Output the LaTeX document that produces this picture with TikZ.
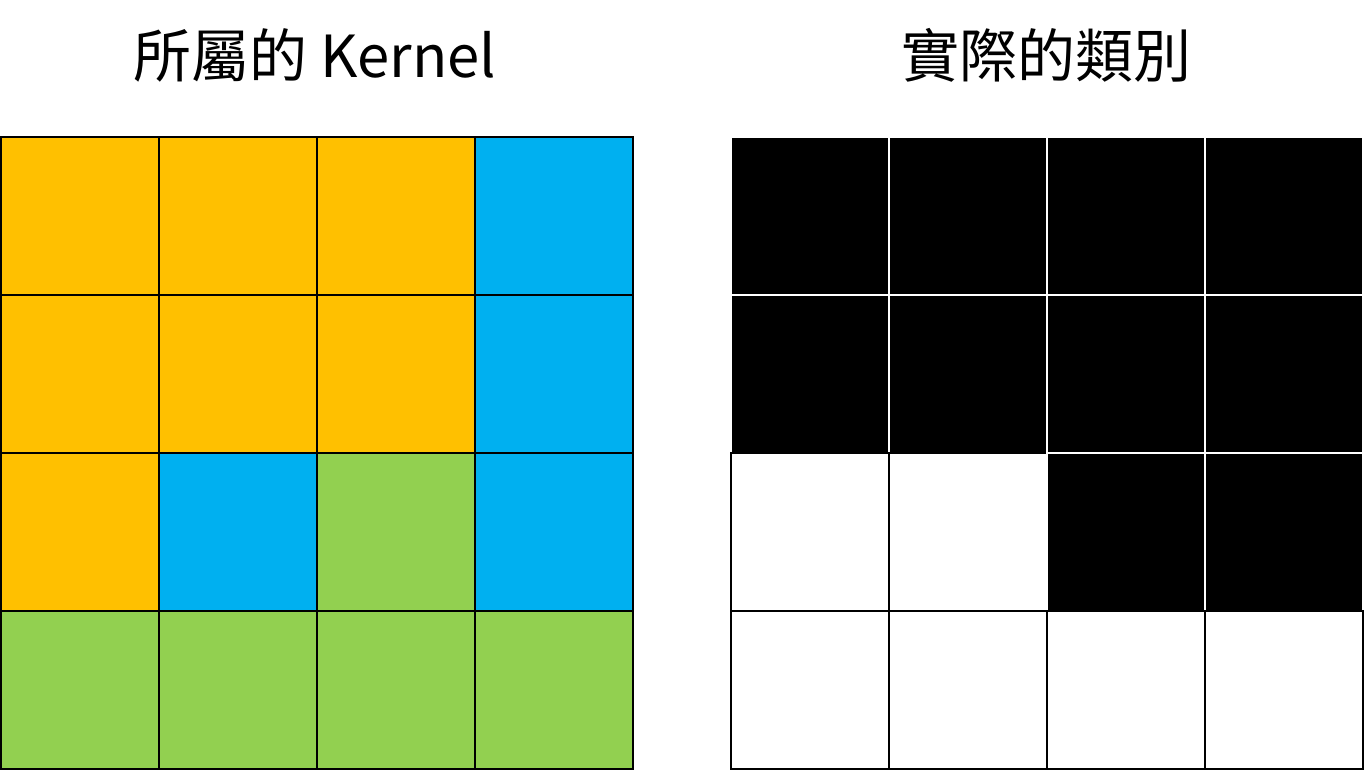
\documentclass[tikz,border=0pt]{standalone}
\usepackage{fontspec}
\usepackage{xcolor}
\usepackage{tikz}
\newfontfamily\cjk{Noto Sans CJK TC}
\definecolor{kernelorange}{RGB}{255, 192, 0}
\definecolor{kernelblue}{RGB}{0, 176, 240}
\definecolor{kernelgreen}{RGB}{146, 208, 80}
\tikzset{
    kcell/.style={draw=black,line width=2pt,minimum size=158pt,inner sep=0pt},
    blackcell/.style={fill=black,draw=white,line width=2pt,minimum size=158pt,inner sep=0pt},
    whitecell/.style={fill=white,draw=black,line width=2pt,minimum size=158pt,inner sep=0pt},
    gridtitle/.style={font=\cjk\fontsize{58}{64}\selectfont,inner sep=0pt}
}

\begin{document}
\begin{tikzpicture}[x=1pt,y=-1pt]
    \useasboundingbox (0,0) rectangle (1365,772);

    % Titles
    \node[gridtitle] (kerneltitle) at (315,55) {所屬的 Kernel};
    \node[gridtitle] (classtitle) at (1046,55) {實際的類別};

    % Kernel grid
    \foreach \row [count=\r] in {{kernelorange,kernelorange,kernelorange,kernelblue},
                                 {kernelorange,kernelorange,kernelorange,kernelblue},
                                 {kernelorange,kernelblue,kernelgreen,kernelblue},
                                 {kernelgreen,kernelgreen,kernelgreen,kernelgreen}} {
        \foreach \col [count=\c] in \row {
            \node[kcell,fill=\col] (kernel-\r-\c) at ({1+158*(\c-0.5)},{137+158*(\r-0.5)}) {};
        }
    }

    % Class grid
    \foreach \row [count=\r] in {{1,1,1,1},{1,1,1,1},{0,0,1,1},{0,0,0,0}} {
        \foreach \v [count=\c] in \row {
            \ifnum\v=1
                \node[blackcell] (class-\r-\c) at ({731+158*(\c-0.5)},{137+158*(\r-0.5)}) {};
            \else
                \node[whitecell] (class-\r-\c) at ({731+158*(\c-0.5)},{137+158*(\r-0.5)}) {};
            \fi
        }
    }
\end{tikzpicture}
\end{document}
